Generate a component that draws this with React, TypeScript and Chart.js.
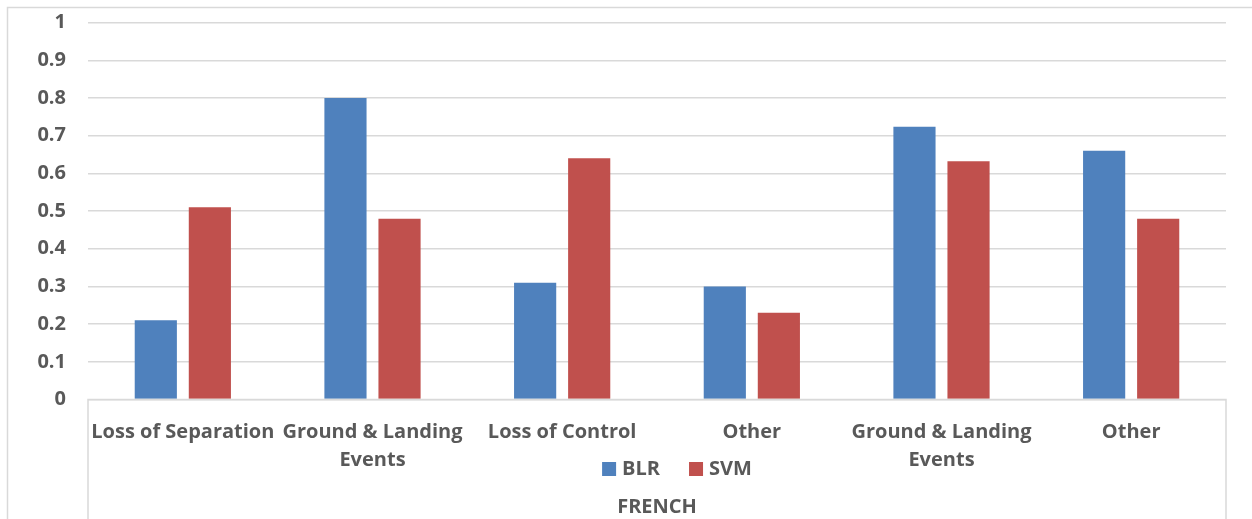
import React, { useEffect, useRef } from "react";
import { Chart, registerables } from "chart.js";

Chart.register(...registerables);

const categories: string[][] = [
  ["Loss of Separation"],
  ["Ground & Landing", "Events"],
  ["Loss of Control"],
  ["Other"],
  ["Ground & Landing", "Events"],
  ["Other"],
];
const blrValues = [0.21, 0.8, 0.31, 0.3, 0.724, 0.66];
const svmValues = [0.51, 0.48, 0.64, 0.23, 0.632, 0.48];
const seriesNames = ["BLR", "SVM"];
const groupLabel = "FRENCH";

const BLUE = "#4F81BD";
const RED = "#C0504D";
const TEXT = "#595959";
const GRID = "#D9D9D9";
const FONT = "'Open Sans', Lato, sans-serif";
const SIZE = 20;

// Outer frame, x-axis baseline, group bracket and legend
const decorPlugin = {
  id: "decor",
  afterDraw(chart: any) {
    const { ctx, chartArea } = chart;
    const { left, right, bottom } = chartArea;
    ctx.save();
    ctx.strokeStyle = GRID;
    ctx.lineWidth = 1.5;
    // outer frame (left + top)
    ctx.beginPath();
    ctx.moveTo(7.5, chart.height + 5);
    ctx.lineTo(7.5, 7.5);
    ctx.lineTo(chart.width + 5, 7.5);
    ctx.stroke();
    // baseline and bracket around category group
    ctx.beginPath();
    ctx.moveTo(left, chart.height + 5);
    ctx.lineTo(left, bottom);
    ctx.lineTo(right, bottom);
    ctx.lineTo(right, chart.height + 5);
    ctx.stroke();

    // legend drawn from dataset labels/colors
    ctx.font = `bold ${SIZE}px ${FONT}`;
    const box = 14;
    const gap = 6;
    const itemGap = 29;
    const items = chart.data.datasets.map((ds: any) => ({
      label: ds.label,
      color: ds.backgroundColor,
      w: box + gap + ctx.measureText(ds.label).width,
    }));
    const total =
      items.reduce((s: number, it: any) => s + it.w, 0) +
      itemGap * (items.length - 1);
    let x = (left + right) / 2 + 20 - total / 2;
    const y = 469;
    ctx.textBaseline = "middle";
    ctx.textAlign = "left";
    for (const it of items) {
      ctx.fillStyle = it.color;
      ctx.fillRect(x, y - box / 2, box, box);
      ctx.fillStyle = TEXT;
      ctx.fillText(it.label, x + box + gap, y);
      x += it.w + itemGap;
    }
    ctx.restore();
  },
};

export default function App() {
  const ref = useRef<HTMLCanvasElement | null>(null);

  useEffect(() => {
    document.body.style.margin = "0";
    if (!ref.current) return;
    const chart = new Chart(ref.current, {
      type: "bar",
      data: {
        labels: categories,
        datasets: [
          { label: seriesNames[0], data: blrValues, backgroundColor: BLUE },
          { label: seriesNames[1], data: svmValues, backgroundColor: RED },
        ],
      },
      options: {
        animation: false,
        responsive: true,
        maintainAspectRatio: false,
        layout: { padding: { top: 22.7, left: 0, right: 26, bottom: 0 } },
        datasets: {
          bar: { categoryPercentage: 0.57, barPercentage: 0.78 },
        },
        plugins: {
          legend: { display: false },
          tooltip: { enabled: false },
        },
        scales: {
          x: {
            grid: { display: false, drawTicks: false },
            border: { display: false },
            ticks: {
              color: TEXT,
              padding: 18.5,
              maxRotation: 0,
              autoSkip: false,
              font: { family: FONT, size: SIZE, weight: "bold", lineHeight: 1.425 },
            },
            title: {
              display: true,
              text: groupLabel,
              color: TEXT,
              padding: { top: 0, bottom: 0 },
              font: { family: FONT, size: SIZE, weight: "bold", lineHeight: 1.2 },
            },
            afterFit(scale: any) {
              scale.height = 119.5;
            },
          },
          y: {
            min: 0,
            max: 1,
            grid: {
              color: GRID,
              lineWidth: 1.5,
              drawTicks: true,
              tickLength: 22,
              tickColor: "rgba(0,0,0,0)",
            },
            border: { display: false },
            ticks: {
              stepSize: 0.1,
              color: TEXT,
              padding: 0,
              font: { family: FONT, size: SIZE, weight: "bold" },
              callback: (v: any) => String(Math.round(Number(v) * 10) / 10),
            },
            afterFit(scale: any) {
              scale.width = 88;
            },
          },
        },
      },
      plugins: [decorPlugin],
    });
    return () => chart.destroy();
  }, []);

  return (
    <div style={{ position: "relative", width: 1252, height: 519 }}>
      <canvas ref={ref} />
    </div>
  );
}
